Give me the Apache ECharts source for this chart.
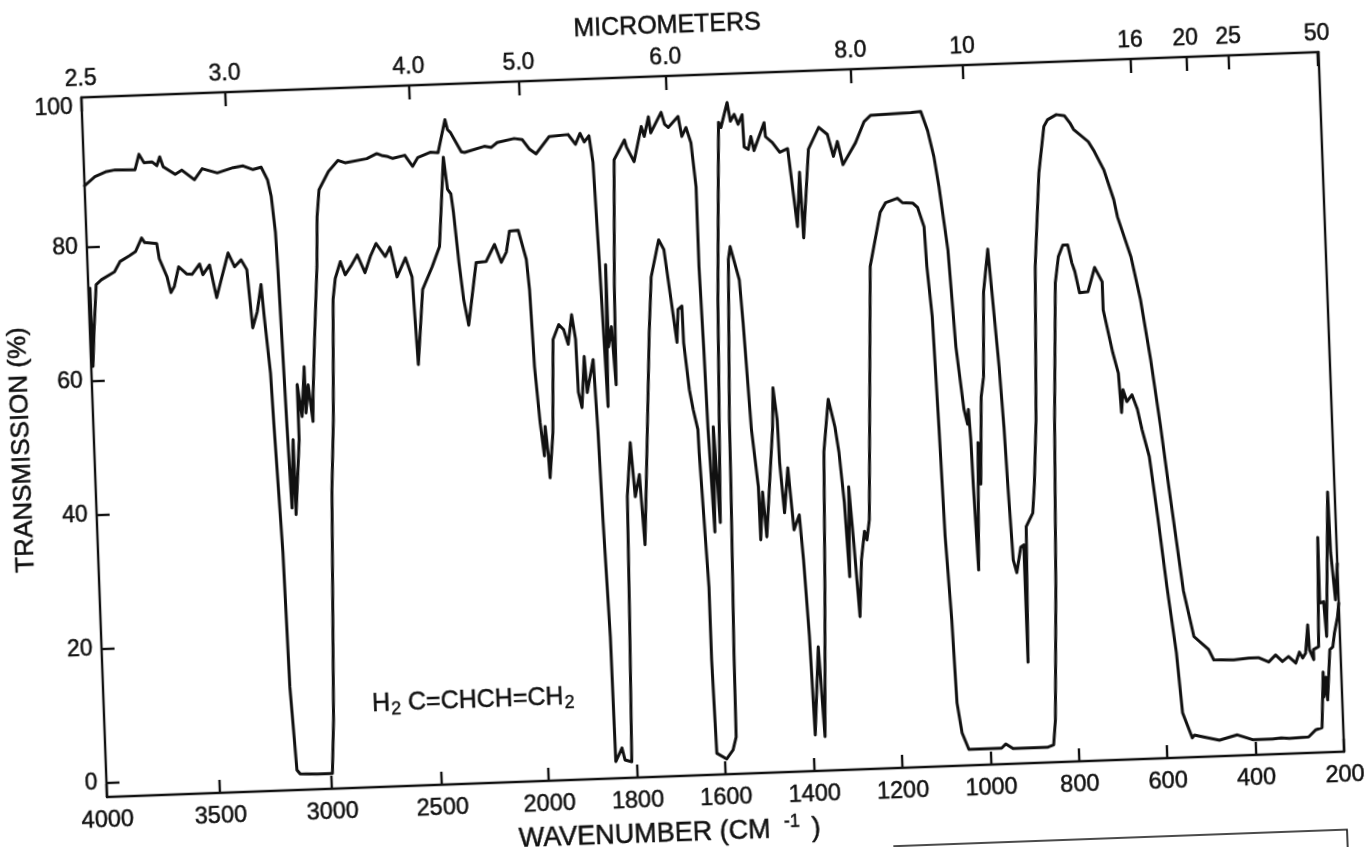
<!DOCTYPE html>
<html><head><meta charset="utf-8">
<script src="https://cdn.jsdelivr.net/npm/echarts@6/dist/echarts.min.js"></script>
<style>
html,body{margin:0;padding:0;background:#fff;width:1371px;height:847px;overflow:hidden}
#chart{position:absolute;left:0;top:0;width:1450px;height:950px;transform-origin:107px 797px;transform:rotate(-2.1deg)}
</style></head><body><div id="chart"></div>
<script>
// Wavenumber ticks (bottom axis) and micrometre ticks (top axis)
const wavenumberTicks=[4000,3500,3000,2500,2000,1800,1600,1400,1200,1000,800,600,400,200];
const micrometerTicks=['2.5','3.0','4.0','5.0','6.0','8.0','10','16','20','25','50'];
const transmissionTicks=[0,20,40,60,80];
const transmissionLabels=[0,20,40,60,80,100];
// The instrument's non-linear wavenumber scale
const scaleWave=[4000,3500,3000,2500,2000,200];
const scaleUnit=[0,256,509,758,1000,2800];
// The printed micrometre scale is offset a little from the wavenumber scale
const topScaleWave=[4000,3333,2500,2000,1667,1250,1000,625,500,400,200];
const topScaleUnit=[0,326,742,991,1323,1742,1995,2375,2500,2597,2797];

// Upper trace
const waveA=[4000,3953,3901,3863,3775,3755,3734,3699,3678,3664,3650,3598,3568,3514,3478,3411,3339,3295,3251,3214,3188,3174,3161,3156,3141,3132,3116,3115,3089,3089,3072,3055,3054,3040,3024,3019,3004,2981,2972,2959,2913,2868,2836,2737,2691,2669,2641,2619,2564,2530,2505,2447,2410,2372,2362,2348,2301,2286,2193,2160,2132,2052,2015,1991,1977,1946,1903,1887,1876,1867,1856,1849,1843,1840,1835,1829,1829,1821,1815,1811,1801,1776,1772,1756,1737,1731,1720,1716,1691,1684,1676,1653,1646,1636,1626,1618,1618,1614,1611,1604,1599,1591,1578,1562,1557,1541,1535,1526,1518,1508,1506,1497,1490,1484,1459,1457,1442,1426,1408,1403,1392,1383,1379,1361,1336,1317,1305,1295,1284,1254,1233,1218,1126,1104,1090,1078,1069,1054,1044,1031,1024,1021,1018,1016,1011,1002,999,991,984,977,964,957,948,942,938,932,925,914,907,907,907,900,884,878,869,858,842,827,818,798,780,768,760,728,715,695,675,668,641,623,605,588,576,550,530,498,487,442,408,386,363,347,332,318,302,293,286,279,272,270,261,261,249,242,243,234,230,216,214,207,200];
const transA=[89.2,90.5,91.2,91.4,91.3,93.6,92.3,92.4,91.8,93.1,91.6,90.4,91,89.5,91.1,90.4,91.1,91.3,90.7,91,89.1,86.6,81.2,75.6,52,40,50.2,39,50.1,58.4,53.6,61,54.1,58.3,52.8,57,65,75.9,83.3,87.3,90,91.6,91.2,91.7,92.4,92.1,91.9,91.6,92,90.3,91.6,92.3,92.2,97.1,95.6,95.1,92.2,92.1,92.9,92.7,93.4,93.9,93.7,92.2,91.5,94,94.2,92.7,94.3,93,93.9,89.9,75.4,66.9,53.4,74.6,62.3,65.3,56.6,71.3,90.2,93.1,92,89.8,95,93.5,96.4,94,97,95.2,94.7,96.3,93.3,94.6,92.3,85.7,73.8,61.4,49.4,34.1,49.8,35.5,68.8,95.2,94.4,98.1,95.3,96.3,94.8,96.2,91.4,91,92.9,90.8,94.9,92.8,91.9,90.4,90.9,87.3,79.2,87.3,77.5,90.7,93.9,92.8,89.5,91.7,88.2,91.4,94.5,95.4,95.6,95.7,92.8,88.9,84.4,74.9,60.4,51.1,48.8,51,46.5,39.5,27,46,39.8,52.8,55.8,68.4,74.8,67.2,57.2,48.2,39.3,28.3,26.4,30.2,30.5,24.2,13,33.2,35.2,39.5,49,72,85.9,92.8,93.8,94.5,94.3,93.2,92.2,90.3,88.8,86,81.5,78.9,72.9,66.5,57.5,47.4,39.4,22.8,15.9,13.9,12.3,12.2,12.4,12.4,11.7,12.7,11.7,12.4,11.4,13,12.1,12.8,17,13.3,11.8,13.3,13.7,30,20.2,20.4,15.2,36.7,27.7,20.6,26];

// Lower trace
const waveB=[3993,3992,3982,3965,3941,3882,3856,3814,3786,3757,3744,3691,3682,3651,3636,3620,3598,3564,3540,3505,3492,3461,3434,3407,3376,3349,3319,3295,3278,3255,3234,3225,3206,3199,3180,3171,3153,3139,3063,2995,2981,2950,2932,2913,2900,2874,2854,2822,2796,2764,2737,2709,2669,2646,2619,2578,2551,2537,2505,2457,2419,2386,2372,2357,2348,2331,2315,2296,2251,2204,2162,2133,2108,2090,2049,2016,2006,1998,1990,1983,1979,1974,1972,1962,1954,1940,1929,1920,1910,1903,1901,1894,1885,1881,1865,1860,1856,1849,1847,1832,1826,1811,1804,1799,1788,1781,1770,1763,1747,1736,1727,1707,1696,1684,1674,1669,1660,1659,1650,1643,1634,1633,1622,1622,1618,1596,1581,1573,1571,1564,1562,1551,1546,1528,1523,1517,1513,1502,1501,1493,1487,1477,1465,1461,1454,1452,1445,1434,1425,1412,1406,1399,1394,1380,1372,1360,1351,1337,1324,1317,1309,1303,1298,1291,1283,1275,1266,1261,1254,1245,1231,1204,1191,1164,1153,1130,1119,1106,1103,1095,1089,1084,1076,1071,1062,1048,1026,974,964,948,907,869,856,850,838,827,814,805,794,783,775,769,760,741,724,708,708,690,679,675,670,662,650,639,630,616,602,587,571,562,542,537,481,440,406,361,341,323,279,263,248,241,241,235,233,224,217,212,204,199];
const transB=[73.9,62.2,67.3,74.4,75.1,76.2,77.7,78.5,79.1,81.1,80.4,80.2,77.9,75.2,72.8,73.7,76.6,75.5,75.4,76.9,75.3,76.7,71.8,74.9,78.4,76.3,77.3,75.8,67.1,69.5,73.5,68.7,60.2,52.2,33.4,13.3,0.9,0.3,0.2,0.2,8.2,42.5,52.9,70.9,74,76.5,74.5,76,77.4,74.7,77.1,79,77,78.4,73.9,76.7,73.8,60.7,71.9,75.2,78.2,91.5,86.7,86,83.2,75.7,70.1,66.3,75.6,75.7,78.2,75.5,77,80.1,80.2,75.8,71.3,59.7,51.4,46.4,50.8,46.5,43.1,49.8,63.7,65.9,65.1,62.9,67.3,63.6,55.7,53.4,61,55.6,60.5,50,36.5,19,0.4,2.4,0.6,0.3,21.5,39.9,47.9,39.8,43.1,32.6,51.2,64.2,72.5,78,76.5,69,62.6,67.5,68,62.5,55.5,52.5,49.5,46,25.9,15.1,1.1,0.2,1.5,3.4,16,40.8,50.8,74.7,76.6,71.6,65.2,55.6,49.2,40.6,32.7,39.8,33.1,40.6,49.4,55.3,50.5,44.1,36.6,43.3,34,36.2,29.5,18,3.3,16.4,3,25.3,45.5,53.3,49.1,45.3,37.8,26.7,40.1,31.7,20.7,29.2,33.4,32.1,35.1,50,72.9,80.9,82.3,82.9,82.2,82.1,81.4,78.5,72.6,65.1,48.6,32.2,19.8,7.3,2.8,0.3,0.3,0.3,0.9,0.2,0.2,0.2,0.5,4.2,24.1,49,69.4,73.3,75,75,72.3,71,67.8,67.9,71.5,69.3,65.1,58.7,55.6,49.7,53.1,51.3,52.3,50.1,47,43,34,23.5,13.6,4.6,0.8,1.2,0.3,1,0.2,0.2,0.3,0.2,0.3,1.3,1.6,9.9,6.2,9.1,5.7,13.2,13.6,15.7,18,20.1];

function mapScale(w,waves,units){
  for(let i=1;i<waves.length;i++){
    if(w>=waves[i]){
      const t=(waves[i-1]-w)/(waves[i-1]-waves[i]);
      return units[i-1]+t*(units[i]-units[i-1]);
    }
  }
  return units[units.length-1];
}
const toU=w=>mapScale(w,scaleWave,scaleUnit);
const toTopU=w=>mapScale(w,topScaleWave,topScaleUnit);
const key=v=>v.toFixed(3);
const bottomU=wavenumberTicks.map(toU);
const bottomText=new Map(bottomU.map((u,i)=>[key(u),String(wavenumberTicks[i])]));
const topU=micrometerTicks.map(m=>toTopU(10000/parseFloat(m)));
const topText=new Map(topU.map((u,i)=>[key(u),micrometerTicks[i]]));
const font='"Liberation Sans",Arial,sans-serif';
const ink='#111';
const line={lineStyle:{color:ink,width:2.4}};
const bold={textBorderColor:ink,textBorderWidth:0.5};
const chart=echarts.init(document.getElementById('chart'),null,{renderer:'canvas'});
const xBase={type:'value',min:0,max:2800,splitLine:{show:false},axisLine:{show:true,onZero:false,...line},nameLocation:'middle'};
chart.setOption({
  animation:false,backgroundColor:'#fff',
  grid:{left:107,top:97,width:1238,height:700,show:false},
  xAxis:[
    {...xBase,position:'bottom',
     name:'{a|WAVENUMBER (CM }{s|-1}{a| )}',nameGap:37,
     nameTextStyle:{padding:[0,116,0,0],rich:{a:{fontFamily:font,fontSize:27,color:ink,...bold},s:{fontFamily:font,fontSize:18,color:ink,...bold,padding:[0,4,14,6]}}},
     axisTick:{show:true,inside:true,length:13,customValues:bottomU,...line},
     axisLabel:{show:true,customValues:bottomU,margin:12,fontFamily:font,fontSize:23.5,color:ink,...bold,hideOverlap:false,showMinLabel:true,showMaxLabel:true,
       formatter:v=>bottomText.get(key(v))||''}},
    {...xBase,position:'top',
     name:'MICROMETERS',nameGap:37,
     nameTextStyle:{fontFamily:font,fontSize:25,color:ink,...bold,padding:[0,62,0,0]},
     axisTick:{show:true,inside:true,length:14,customValues:topU,...line},
     axisLabel:{show:true,customValues:topU,margin:7,fontFamily:font,fontSize:23,color:ink,...bold,hideOverlap:false,showMinLabel:true,showMaxLabel:true,
       formatter:v=>topText.get(key(v))||''}}
  ],
  yAxis:[
    {type:'value',min:-2.09,max:102.39,position:'left',splitLine:{show:false},axisLine:{show:true,onZero:false,...line},
     name:'TRANSMISSION (%)',nameLocation:'middle',nameGap:52,nameRotate:90,
     nameTextStyle:{fontFamily:font,fontSize:26,color:ink,...bold},
     axisTick:{show:true,inside:true,length:13,customValues:transmissionTicks,...line},
     axisLabel:{show:true,customValues:transmissionLabels,margin:9,fontFamily:font,fontSize:23,color:ink,...bold,hideOverlap:false,showMaxLabel:true,showMinLabel:true,
       formatter:v=>v===100?'{top|100}':String(v),
       rich:{top:{fontFamily:font,fontSize:23,color:ink,...bold,padding:[0,0,12,0]}}}},
    {type:'value',min:-2.09,max:102.39,position:'right',splitLine:{show:false},axisLine:{show:true,onZero:false,...line},axisTick:{show:false},axisLabel:{show:false}}
  ],
  series:[
    {type:'line',name:'upper trace',xAxisIndex:0,yAxisIndex:0,showSymbol:false,symbol:'none',smooth:false,clip:false,
     lineStyle:{color:ink,width:3,join:'round',cap:'round'},data:waveA.map((w,i)=>[toU(w),transA[i]])},
    {type:'line',name:'lower trace',xAxisIndex:0,yAxisIndex:0,showSymbol:false,symbol:'none',smooth:false,clip:false,
     lineStyle:{color:ink,width:3,join:'round',cap:'round'},data:waveB.map((w,i)=>[toU(w),transB[i]])}
  ],
  graphic:[
    {type:'text',left:375,top:701,style:{text:'{a|H}{s|2}{a| C=CHCH=CH}{s|2}',fill:ink,rich:{a:{fontFamily:font,fontSize:25,fill:ink,stroke:ink,lineWidth:0.5},s:{fontFamily:font,fontSize:18,fill:ink,stroke:ink,lineWidth:0.4,padding:[12,0,0,1]}}}},
    {type:'polyline',shape:{points:[[891,875],[1345,875],[1345,930]]},style:{stroke:ink,lineWidth:1.6,fill:null}}
  ]
});
</script></body></html>
